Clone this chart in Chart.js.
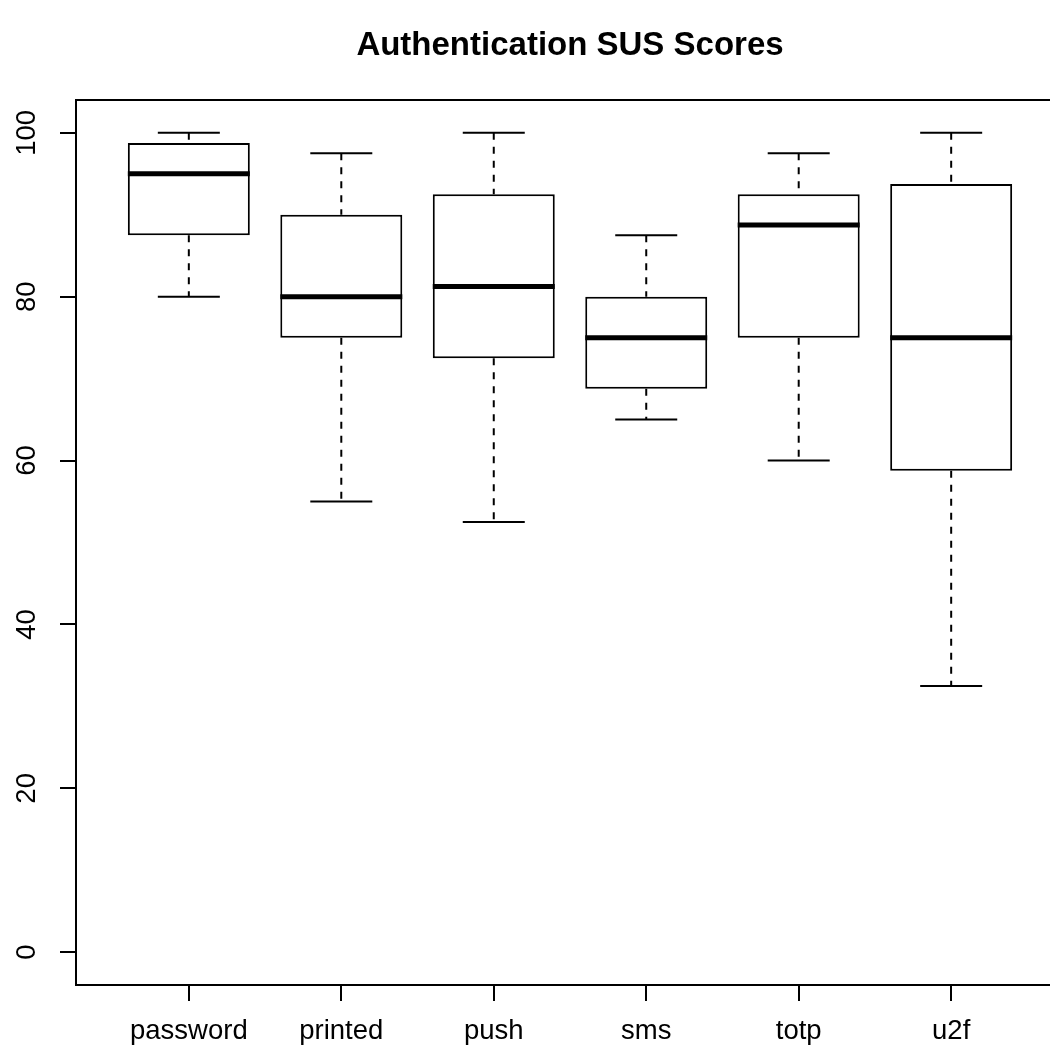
<!DOCTYPE html>
<html>
<head>
<meta charset="utf-8">
<script src="https://cdn.jsdelivr.net/npm/chart.js@4/dist/chart.umd.min.js"></script>
<style>
  html, body { margin: 0; padding: 0; background: #fff; overflow: hidden; }
</style>
</head>
<body>
<canvas id="susChart" width="1140" height="1052"></canvas>
<script>
// data
const categories = ["password", "printed", "push", "sms", "totp", "u2f"]
const whiskerLow = [80, 55, 52.5, 65, 60, 32.5]
const lowerQuartile = [87.5, 75, 72.5, 68.75, 75, 58.75]
const medians = [95, 80, 81.25, 75, 88.75, 75]
const upperQuartile = [98.75, 90, 92.5, 80, 92.5, 93.75]
const whiskerHigh = [100, 97.5, 100, 87.5, 97.5, 100]
const yTicks = [0, 20, 40, 60, 80, 100]

const positions = categories.map((c, i) => i + 1)
const FONT = "'Liberation Sans', Arial, Helvetica, sans-serif"

//#region datasets
let boxData = positions.map((x, i) => ({ x, y: [lowerQuartile[i], upperQuartile[i]] }))
let medianData = positions.map((x, i) => ({ x, y: medians[i] }))
let capData = []
let whiskerData = []
positions.forEach((x, i) => {
    capData.push({ x, y: whiskerHigh[i] }, { x, y: whiskerLow[i] })
    whiskerData.push(
        { x, y: whiskerHigh[i] }, { x, y: upperQuartile[i] }, { x, y: null },
        { x, y: lowerQuartile[i] }, { x, y: whiskerLow[i] }, { x, y: null }
    )
})
//#endregion

// R style box around the plot region
const frame = {
    id: "frame",
    afterDatasetsDraw(chart) {
        const { ctx, chartArea: a } = chart
        ctx.save()
        ctx.strokeStyle = "#000"
        ctx.lineWidth = 2
        ctx.strokeRect(a.left, a.top, a.right - a.left, a.bottom - a.top)
        ctx.restore()
    }
}

new Chart("susChart", {
    type: "bar",
    data: {
        datasets: [
            {
                type: "line",
                data: whiskerData,
                borderColor: "#000",
                borderWidth: 2,
                borderDash: [7, 7],
                pointRadius: 0,
                spanGaps: false,
                fill: false,
                order: 4
            },
            {
                data: boxData,
                backgroundColor: "#fff",
                borderColor: "#000",
                borderWidth: 2,
                borderSkipped: false,
                categoryPercentage: 0.8,
                barPercentage: 1,
                grouped: false,
                order: 3
            },
            {
                type: "line",
                data: capData,
                showLine: false,
                pointStyle: "line",
                pointRadius: 31,
                pointBorderWidth: 2,
                pointBorderColor: "#000",
                order: 2
            },
            {
                type: "line",
                data: medianData,
                showLine: false,
                pointStyle: "line",
                pointRadius: 61,
                pointBorderWidth: 5,
                pointBorderColor: "#000",
                order: 1
            }
        ]
    },
    options: {
        responsive: false,
        animation: false,
        events: [],
        layout: { padding: 0 },
        plugins: {
            legend: { display: false },
            tooltip: { enabled: false },
            title: {
                display: true,
                text: "Authentication SUS Scores",
                color: "#000",
                font: { family: FONT, size: 33, weight: "bold", lineHeight: 1.2 },
                padding: { top: 26, bottom: 34.4 }
            }
        },
        scales: {
            x: {
                type: "linear",
                position: "bottom",
                min: 0.26,
                max: 6.74,
                offset: false,
                afterFit: s => { s.height = 67 },
                afterBuildTicks: s => { s.ticks = positions.map(v => ({ value: v })) },
                border: { display: false },
                grid: {
                    display: true, offset: false, drawOnChartArea: false, drawTicks: true,
                    tickLength: 16, color: "#000", lineWidth: 2
                },
                ticks: {
                    autoSkip: false, maxRotation: 0, padding: 14, color: "#000",
                    font: { family: FONT, size: 27.5 },
                    callback: v => categories[v - 1]
                }
            },
            y: {
                type: "linear",
                position: "left",
                min: -4,
                max: 104,
                afterFit: s => { s.width = 76 },
                afterBuildTicks: s => { s.ticks = yTicks.map(v => ({ value: v })) },
                border: { display: false },
                grid: {
                    display: true, drawOnChartArea: false, drawTicks: true,
                    tickLength: 16, color: "#000", lineWidth: 2
                },
                ticks: {
                    minRotation: 90, maxRotation: 90, crossAlign: "center",
                    padding: 10, color: "#000",
                    font: { family: FONT, size: 27.5 }
                }
            },
            yRight: {
                type: "linear",
                position: "right",
                display: true,
                afterFit: s => { s.width = 76 },
                border: { display: false },
                grid: { display: false },
                ticks: { display: false }
            }
        }
    },
    plugins: [frame]
})
</script>
</body>
</html>
